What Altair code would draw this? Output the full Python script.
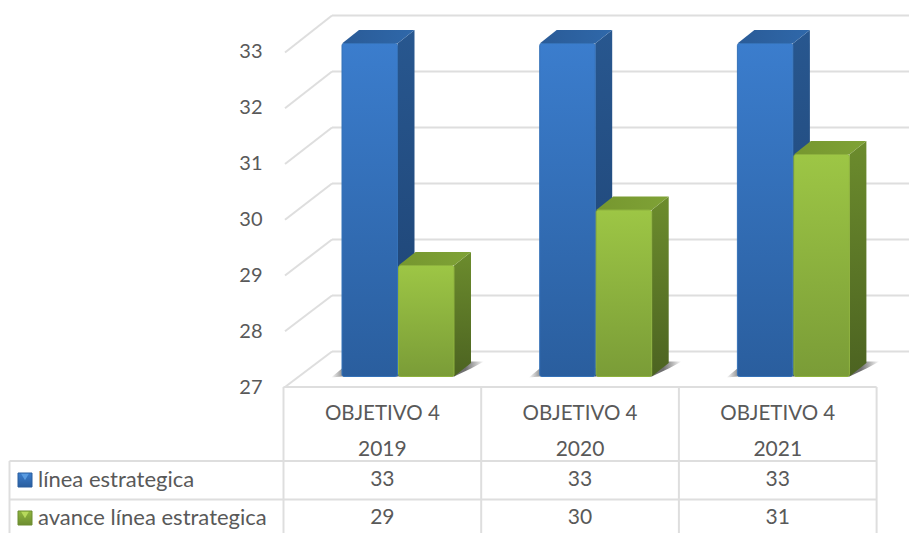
import altair as alt
import pandas as pd

# ---- chart values -------------------------------------------------------
categories = ["OBJETIVO 4", "OBJETIVO 4", "OBJETIVO 4"]
years = ["2019", "2020", "2021"]
linea = [33, 33, 33]
avance = [29, 30, 31]
series_names = ["línea estrategica", "avance línea estrategica"]
ticks = [27, 28, 29, 30, 31, 32, 33]

# ---- projection of the 3-D box into the flat scales ---------------------
UX = 197.7   # one category column
UY = 56.0    # one value unit
W, H = 901, 525
x_dom = [(8 - 283.5) / UX, (909 - 283.5) / UX]
y_dom = [27 - (533 - 387) / UY, 27 + (387 - 8) / UY]
xs = alt.Scale(domain=x_dom, range=[0, W], nice=False, zero=False)
ys = alt.Scale(domain=y_dom, range=[H, 0], nice=False, zero=False)

BACK_DX, BACK_DY = 47 / UX, 35.5 / UY
BAR_DX, BAR_DY = 17 / UX, 13.5 / UY
BAR_LIFT = 10.5 / UY
BAR_W = 55.5 / UX
B0 = 58.5 / UX
B1 = 115.0 / UX
LEFT = 1.5 / UX
TABLE_LEFT = (9.5 - 283.5) / UX
ROW1, ROW2 = 27 - 74 / UY, 27 - 112.5 / UY
INK = "#595959"
GRID = "#dedede"
FONT = "Lato"


def bar_y(v):
    return 27 + (v - 27) * (55.5 / 56) + BAR_LIFT


def grad(c0, c1, horizontal=False, stops=None):
    st = stops or [(0, c0), (1, c1)]
    return alt.LinearGradient(
        gradient="linear",
        stops=[alt.GradientStop(color=c, offset=o) for o, c in st],
        x1=0, y1=0,
        x2=1 if horizontal else 0,
        y2=0 if horizontal else 1,
    )


X = lambda f="x": alt.X(f"{f}:Q", scale=xs, axis=None)
Y = lambda f="y": alt.Y(f"{f}:Q", scale=ys, axis=None)
X2 = alt.X2("x2:Q")
Y2 = alt.Y2("y2:Q")

# ---- walls --------------------------------------------------------------
back_rows = [{"x": LEFT + BACK_DX, "x2": x_dom[1], "y": t + BACK_DY, "y2": t + BACK_DY} for t in ticks]
side_rows = []
for t in ticks:
    front = 27 + (t - 27) * (55.75 / 56)
    side_rows.append({"x": LEFT, "y": front, "id": t})
    side_rows.append({"x": LEFT + BACK_DX, "y": t + BACK_DY, "id": t})

axis_layer = (
    alt.Chart(pd.DataFrame({"v": ticks, "x": [0.0] * len(ticks)}))
    .mark_point(opacity=0)
    .encode(
        x=X(),
        y=alt.Y(
            "v:Q", scale=ys, title=None,
            axis=alt.Axis(
                values=ticks, offset=-254, labelPadding=0, domain=False, ticks=False, grid=False,
                labelFont=FONT, labelFontSize=20, labelColor=INK, format="d",
            ),
        ),
    )
)
back = alt.Chart(pd.DataFrame(back_rows)).mark_rule(color=GRID, strokeWidth=2).encode(x=X(), x2=X2, y=Y())
side = alt.Chart(pd.DataFrame(side_rows)).mark_line(color=GRID, strokeWidth=2).encode(x=X(), y=Y(), detail="id:N")

# ---- bars ---------------------------------------------------------------
shadow_rows = []
n = len(years)
for i in range(n):
    x0 = i + B0
    xe = i + B1 + BAR_W
    base = bar_y(27)
    pts = [
        (x0 - 11 / UX, base - 1 / UY, base - 1 / UY),
        (x0, base, base - 1 / UY + 9 / UY),
        (xe, base, base + 9 / UY),
        (xe + BAR_DX, base + 8 / UY, base + BAR_DY + 1.5 / UY),
        (xe + 30 / UX, base + BAR_DY + 1.5 / UY, base + BAR_DY + 1.5 / UY),
    ]
    for px, a, b in pts:
        shadow_rows.append({"x": px, "y": a, "y2": b, "id": i})

shadow = (
    alt.Chart(pd.DataFrame(shadow_rows))
    .mark_area(
        orient="vertical",
        color=grad(None, None, True, [(0, "#ffffff"), (0.1, "#707070"), (0.88, "#707070"), (1, "#ffffff")]),
    )
    .encode(x=X(), y=Y(), y2=Y2, detail="id:N")
)


def series_layers(values, start, front_g, top_g, side_g, edge):
    front, top, sidef = [], [], []
    for i, v in enumerate(values):
        x0, x1 = i + start, i + start + BAR_W
        yt, yb = bar_y(v), bar_y(27)
        front.append({"x": x0, "x2": x1, "y": yb, "y2": yt})
        for px, a, b in [
            (x0, yt, yt),
            (x0 + BAR_DX, yt, yt + BAR_DY),
            (x1, yt, yt + BAR_DY),
            (x1 + BAR_DX, yt + BAR_DY, yt + BAR_DY),
        ]:
            top.append({"x": px, "y": a, "y2": b, "id": i})
        for px, a, b in [(x1, yb, yt), (x1 + BAR_DX, yb + BAR_DY, yt + BAR_DY)]:
            sidef.append({"x": px, "y": a, "y2": b, "id": i})
    return [
        alt.Chart(pd.DataFrame(sidef)).mark_area(orient="vertical", color=side_g).encode(x=X(), y=Y(), y2=Y2, detail="id:N"),
        alt.Chart(pd.DataFrame(top)).mark_area(orient="vertical", color=top_g).encode(x=X(), y=Y(), y2=Y2, detail="id:N"),
        alt.Chart(pd.DataFrame(front))
        .mark_rect(color=front_g, cornerRadius=2, stroke=edge, strokeWidth=1)
        .encode(x=X(), x2=X2, y=Y(), y2=Y2),
    ]


blue = series_layers(
    linea, B0,
    grad("#3b7dcd", "#2a5e9e"), grad("#2a5b97", "#2f68aa", True), grad("#28578f", "#1d4272"), "#3572b8",
)
green = series_layers(
    avance, B1,
    grad("#9dc645", "#7a9c37"), grad("#76972f", "#7fa236", True), grad("#6c8c2d", "#4c6321"), "#8eb23e",
)

# ---- data table ---------------------------------------------------------
col_lines = [
    {"x": i, "y": y_dom[0], "y2": 27} for i in range(n + 1)
] + [{"x": TABLE_LEFT, "y": y_dom[0], "y2": ROW1}]
row_lines = [
    {"x": 0, "x2": n, "y": 27},
    {"x": TABLE_LEFT, "x2": n, "y": ROW1},
    {"x": TABLE_LEFT, "x2": n, "y": ROW2},
]
table_cols = alt.Chart(pd.DataFrame(col_lines)).mark_rule(color=GRID, strokeWidth=2).encode(x=X(), y=Y(), y2=Y2)
table_rows = alt.Chart(pd.DataFrame(row_lines)).mark_rule(color=GRID, strokeWidth=2).encode(x=X(), x2=X2, y=Y())

cell_y = {"cat": 27 - 26.5 / UY, "year": 27 - 62.5 / UY, "s0": 27 - 93 / UY, "s1": 27 - 131 / UY}
head, nums = [], []
for i in range(n):
    head.append({"x": i + 0.5, "y": cell_y["cat"], "t": categories[i]})
    nums.append({"x": i + 0.5, "y": cell_y["year"], "t": years[i]})
    nums.append({"x": i + 0.5, "y": cell_y["s0"], "t": str(linea[i])})
    nums.append({"x": i + 0.5, "y": cell_y["s1"], "t": str(avance[i])})
head_text = (
    alt.Chart(pd.DataFrame(head))
    .mark_text(font=FONT, fontSize=20.5, color=INK, align="center", baseline="middle")
    .encode(x=X(), y=Y(), text="t:N")
)
num_text = (
    alt.Chart(pd.DataFrame(nums))
    .mark_text(font=FONT, fontSize=21, color=INK, align="center", baseline="middle")
    .encode(x=X(), y=Y(), text="t:N")
)
legend_x = (38 - 283.5) / UX
legend_text = (
    alt.Chart(pd.DataFrame([
        {"x": legend_x, "y": cell_y["s0"], "t": series_names[0]},
        {"x": legend_x, "y": cell_y["s1"], "t": series_names[1]},
    ]))
    .mark_text(font=FONT, fontSize=22, color=INK, align="left", baseline="middle")
    .encode(x=X(), y=Y(), text="t:N")
)


def key(row_y, g, edge, tip):
    kx0, kx1 = (18 - 283.5) / UX, (32 - 283.5) / UX
    box = (
        alt.Chart(pd.DataFrame([{"x": kx0, "x2": kx1, "y": row_y - 7 / UY, "y2": row_y + 7 / UY}]))
        .mark_rect(color=g, stroke=edge, strokeWidth=1)
        .encode(x=X(), x2=X2, y=Y(), y2=Y2)
    )
    chev = (
        alt.Chart(pd.DataFrame([{"x": (kx0 + kx1) / 2, "y": row_y + 3 / UY}]))
        .mark_point(shape="triangle-down", filled=True, size=60, color=tip, opacity=1)
        .encode(x=X(), y=Y())
    )
    return [box, chev]


keys = key(cell_y["s0"], grad("#3b7dcd", "#2a5e9e"), "#2a5e9e", "#5a9be0") + key(
    cell_y["s1"], grad("#8fb63f", "#6d8d30"), "#6d8d30", "#b6d95c"
)

chart = (
    alt.layer(
        axis_layer, back, side, table_rows, table_cols, shadow, *blue, *green,
        head_text, num_text, legend_text, *keys,
    )
    .resolve_axis(y="independent")
    .properties(width=W, height=H, padding=0, autosize=alt.AutoSizeParams(type="none"), background="white")
    .configure_view(stroke=None)
)
chart.save("out.html", embed_options={"renderer": "svg", "actions": False})
